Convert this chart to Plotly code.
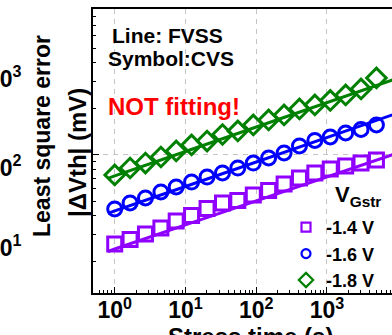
import plotly.graph_objects as go

# ---- data ----
stress_time = [1, 1.65, 2.72, 4.5, 7.4, 12.2, 20.2, 33.4, 55, 91, 150, 248, 409, 675, 1115, 1840, 3035, 5010]
cvs_14 = [26.2, 28.0, 30.5, 33.3, 37.0, 40.2, 44.7, 48.6, 50.4, 54.8, 58.6, 64.6, 70.7, 76.3, 81.0, 84.8, 88.6, 92.8]
cvs_16 = [44.4, 48.6, 52.4, 57.3, 61.8, 66.6, 71.8, 76.3, 82.2, 88.6, 95.6, 103.1, 114.5, 124.4, 131.1, 139.3, 146.8, 157.1]
cvs_18 = [74.0, 82.2, 88.6, 97.0, 106.2, 116.3, 123.4, 136.1, 143.5, 157.1, 169.4, 182.6, 199.8, 212.3, 227.1, 246.7, 270.1, 318.7]

fit_time = [0.8, 1, 10, 100, 1000, 10000]
fvss_14 = [23.4, 24.3, 34.9, 50.1, 71.9, 103.0]
fvss_16 = [41.5, 43.1, 62.2, 89.9, 130.0, 188.0]
fvss_18 = [70.3, 73.0, 105.4, 152.0, 220.0, 318.0]

names = ["-1.4 V", "-1.6 V", "-1.8 V"]
colors = ["#8F00FF", "#0000FF", "#008000"]
symbols = ["square-open", "circle-open", "diamond-open"]
x_tickvals = [1, 10, 100, 1000]
x_ticktext = ["10<sup>0</sup>", "10<sup>1</sup>", "10<sup>2</sup>", "10<sup>3</sup>"]
left_labels = ["10<sup>3</sup>", "10<sup>2</sup>", "10<sup>1</sup>"]

W, H = 392, 335
L, R, T, B = 93, 0, 9, 42
PW, PH = W - L - R, H - T - B
def px(x):
    return (x - L) / PW
def py(y):
    return (H - B - y) / PH

FONT = "Liberation Sans, Arial, sans-serif"

fig = go.Figure()
cvs = [cvs_14, cvs_16, cvs_18]
fvss = [fvss_14, fvss_16, fvss_18]
msize = [14, 14, 15]
for i in range(3):
    fig.add_trace(go.Scatter(x=fit_time, y=fvss[i], mode="lines",
                             line=dict(color=colors[i], width=3), showlegend=False))
    fig.add_trace(go.Scatter(x=stress_time, y=cvs[i], mode="markers",
                             marker=dict(symbol=symbols[i], size=msize[i], color=colors[i],
                                         line=dict(color=colors[i], width=3)),
                             showlegend=False))
# legend entries (small symbols)
for i in range(3):
    fig.add_trace(go.Scatter(x=[None], y=[None], mode="markers", name=names[i],
                             marker=dict(symbol=symbols[i], size=9 if i < 2 else 11, color=colors[i],
                                         line=dict(color=colors[i], width=2.2))))

minor_vals = [m * 10 ** k for k in range(-1, 5) for m in range(2, 10)]

fig.update_xaxes(type="log", range=[-0.307, 3.92],
                 tickmode="array", tickvals=x_tickvals, ticktext=x_ticktext,
                 ticks="inside", ticklen=6, tickwidth=1.3, tickcolor="black",
                 ticklabelstandoff=-4,
                 showline=True, linecolor="black", linewidth=1.5, mirror=True,
                 showgrid=True, gridcolor="#C4C4C4", gridwidth=1.3, griddash="5px,5px",
                 minor=dict(tickmode="array", tickvals=minor_vals, ticks="inside", ticklen=3,
                            tickwidth=1, tickcolor="black", showgrid=False),
                 tickfont=dict(family=FONT, size=23, color="black", weight="bold"),
                 zeroline=False)
fig.update_yaxes(type="log", range=[1.098, 2.954],
                 tickmode="array", tickvals=[10, 100, 1000], showticklabels=False,
                 ticks="inside", ticklen=6, tickwidth=1.3, tickcolor="black",
                 showline=True, linecolor="black", linewidth=1.5, mirror=False,
                 showgrid=True, gridcolor="#C4C4C4", gridwidth=1.3, griddash="5px,5px",
                 minor=dict(tickmode="array", tickvals=minor_vals, ticks="inside", ticklen=3,
                            tickwidth=1, tickcolor="black", showgrid=False),
                 zeroline=False)

ann = []
def add_text(text, x, y, size, color="black", xanchor="left", yanchor="middle", angle=0):
    ann.append(dict(text=text, x=px(x), y=py(y), xref="paper", yref="paper",
                    xanchor=xanchor, yanchor=yanchor, showarrow=False, textangle=angle,
                    font=dict(family=FONT, size=size, color=color, weight="bold")))

add_text("Line: FVSS", 110, 35, 21)
add_text("Symbol:CVS", 106, 58, 21)
add_text("NOT fitting!", 106, 106, 24, color="#FF0000")
add_text("V<sub>Gstr</sub>", 333, 196, 22)
add_text("Least square error", 42, 136, 23, xanchor="center", angle=-90)
add_text("|ΔVth| (mV)", 77, 153, 24, xanchor="center", angle=-90)
add_text("Stress time (s)", 250, 321, 24, xanchor="center", yanchor="top")
for lab, yy in zip(left_labels, [77, 166, 246]):
    add_text(lab, 24, yy, 23, xanchor="right")

fig.update_layout(width=W, height=H, margin=dict(l=L, r=R, t=T, b=B),
                  plot_bgcolor="white", paper_bgcolor="white",
                  annotations=ann,
                  legend=dict(x=px(286), y=py(209), xanchor="left", yanchor="top",
                              bgcolor="rgba(0,0,0,0)", borderwidth=0,
                              font=dict(family=FONT, size=18, color="black", weight="bold"),
                              itemwidth=30, tracegroupgap=0))

fig.write_html("out.html", config={"displayModeBar": False},
               post_script="document.body.style.margin='0';document.body.style.overflow='hidden';")
